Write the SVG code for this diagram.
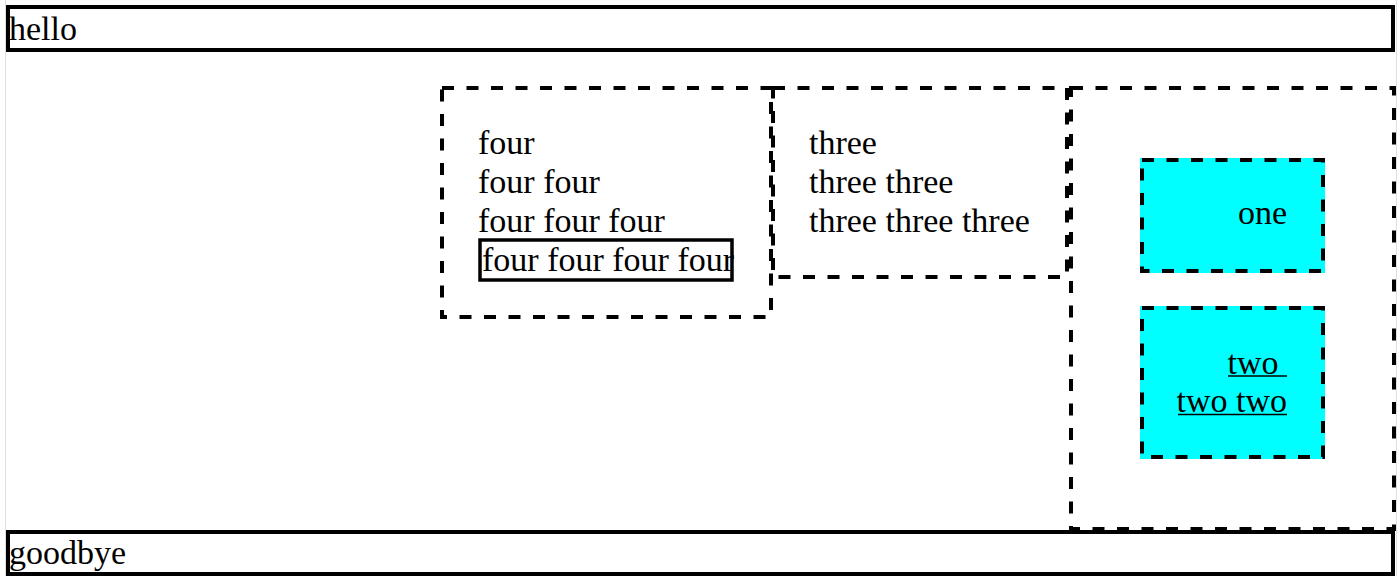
<svg xmlns="http://www.w3.org/2000/svg" width="1400" height="576" viewBox="0 0 1400 576">
<style>
.t{font-family:"Liberation Serif","Times New Roman",serif;font-size:34px;fill:#000}
.solid{fill:#fff;stroke:#000;stroke-width:4}
.dash{fill:none;stroke:#000;stroke-width:4;stroke-dasharray:12 12.5}
.cy{fill:#00ffff}
.ul{stroke:#000;stroke-width:1.6}
</style>
<rect x="0" y="0" width="1400" height="576" fill="#fff"/>
<line x1="5.5" y1="0" x2="5.5" y2="576" stroke="#e0e0e0" stroke-width="1"/>
<line x1="1396.5" y1="0" x2="1396.5" y2="576" stroke="#e0e0e0" stroke-width="1"/>
<g id="hello">
<rect class="solid" x="8" y="7" width="1385" height="43"/>
<text class="t" x="9" y="40">hello</text>
</g>
<g id="four">
<rect class="dash" x="442" y="88" width="329" height="229"/>
<text class="t" x="478" y="154">four</text>
<text class="t" x="478" y="193">four four</text>
<text class="t" x="478" y="232">four four four</text>
<rect x="480" y="240" width="252" height="40" fill="none" stroke="#000" stroke-width="3.5"/>
<text class="t" x="482" y="271">four four four four</text>
</g>
<g id="three">
<rect class="dash" x="773" y="88" width="294" height="189"/>
<text class="t" x="809" y="154">three</text>
<text class="t" x="809" y="193">three three</text>
<text class="t" x="809" y="232">three three three</text>
</g>
<g id="container">
<rect class="dash" x="1071" y="88" width="323" height="441"/>
</g>
<g id="one">
<rect class="cy" x="1140" y="158" width="185" height="115"/>
<rect class="dash" x="1142" y="160" width="181" height="111"/>
<text class="t" x="1287" y="224" text-anchor="end">one</text>
</g>
<g id="two">
<rect class="cy" x="1140" y="306" width="185" height="153"/>
<rect class="dash" x="1142" y="308" width="181" height="149"/>
<text class="t" x="1278.5" y="373.5" text-anchor="end">two</text>
<line class="ul" x1="1228" y1="376" x2="1287" y2="376"/>
<text class="t" x="1287" y="412" text-anchor="end">two two</text>
<line class="ul" x1="1178" y1="414.5" x2="1287" y2="414.5"/>
</g>
<g id="goodbye">
<rect class="solid" x="8" y="532" width="1385" height="42"/>
<text class="t" x="9" y="564">goodbye</text>
</g>
<g id="connectors"></g>
</svg>
